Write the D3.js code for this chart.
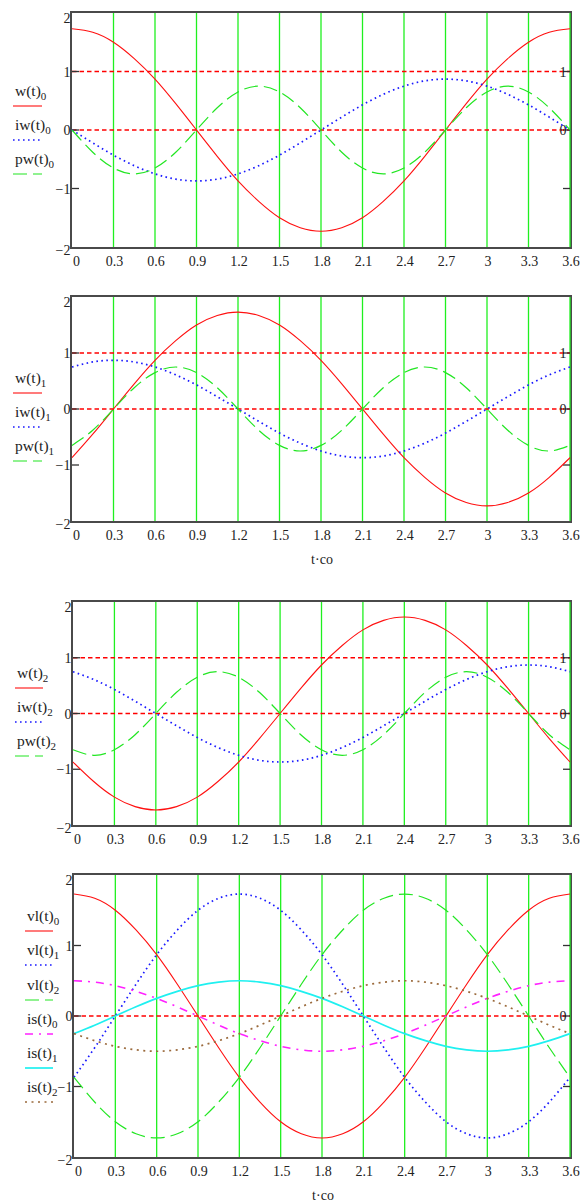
<!DOCTYPE html>
<html>
<head>
<meta charset="utf-8">
<script src="https://d3js.org/d3.v7.min.js"></script>
<style>
body { margin: 0; background: #fff; }
text { font-family: "Liberation Serif", "Times New Roman", serif; fill: #222; }
</style>
</head>
<body>
<script>
// sample times (t·co) read along the x axis
const tValues = [0, 0.15, 0.3, 0.45, 0.6, 0.75, 0.9, 1.05, 1.2, 1.35, 1.5, 1.65, 1.8,
                 1.95, 2.1, 2.25, 2.4, 2.55, 2.7, 2.85, 3, 3.15, 3.3, 3.45, 3.6];
const xTicks = [0, 0.3, 0.6, 0.9, 1.2, 1.5, 1.8, 2.1, 2.4, 2.7, 3, 3.3, 3.6];
const xTickLabels = ["0", "0.3", "0.6", "0.9", "1.2", "1.5", "1.8", "2.1", "2.4", "2.7", "3", "3.3", "3.6"];
const yTicks = [-2, -1, 0, 1, 2];
const yTickLabels = ["\u22122", "\u22121", "0", "1", "2"];
const gridX = [0.3, 0.6, 0.9, 1.2, 1.5, 1.8, 2.1, 2.4, 2.7, 3, 3.3, 3.6];

const w0 = [1.73, 1.67, 1.5, 1.22, 0.87, 0.45, 0, -0.45, -0.87, -1.22, -1.5, -1.67, -1.73,
            -1.67, -1.5, -1.22, -0.87, -0.45, 0, 0.45, 0.87, 1.22, 1.5, 1.67, 1.73];
const iw0 = [0, -0.22, -0.43, -0.61, -0.75, -0.84, -0.87, -0.84, -0.75, -0.61, -0.43, -0.22, 0,
             0.22, 0.43, 0.61, 0.75, 0.84, 0.87, 0.84, 0.75, 0.61, 0.43, 0.22, 0];
const pw0 = [0, -0.38, -0.65, -0.75, -0.65, -0.38, 0, 0.38, 0.65, 0.75, 0.65, 0.38, 0,
             -0.38, -0.65, -0.75, -0.65, -0.38, 0, 0.38, 0.65, 0.75, 0.65, 0.38, 0];

const w1 = [-0.87, -0.45, 0, 0.45, 0.87, 1.22, 1.5, 1.67, 1.73, 1.67, 1.5, 1.22, 0.87,
            0.45, 0, -0.45, -0.87, -1.22, -1.5, -1.67, -1.73, -1.67, -1.5, -1.22, -0.87];
const iw1 = [0.75, 0.84, 0.87, 0.84, 0.75, 0.61, 0.43, 0.22, 0, -0.22, -0.43, -0.61, -0.75,
             -0.84, -0.87, -0.84, -0.75, -0.61, -0.43, -0.22, 0, 0.22, 0.43, 0.61, 0.75];
const pw1 = [-0.65, -0.38, 0, 0.38, 0.65, 0.75, 0.65, 0.38, 0, -0.38, -0.65, -0.75, -0.65,
             -0.38, 0, 0.38, 0.65, 0.75, 0.65, 0.38, 0, -0.38, -0.65, -0.75, -0.65];

const w2 = [-0.87, -1.22, -1.5, -1.67, -1.73, -1.67, -1.5, -1.22, -0.87, -0.45, 0, 0.45, 0.87,
            1.22, 1.5, 1.67, 1.73, 1.67, 1.5, 1.22, 0.87, 0.45, 0, -0.45, -0.87];
const iw2 = [0.75, 0.61, 0.43, 0.22, 0, -0.22, -0.43, -0.61, -0.75, -0.84, -0.87, -0.84, -0.75,
             -0.61, -0.43, -0.22, 0, 0.22, 0.43, 0.61, 0.75, 0.84, 0.87, 0.84, 0.75];
const pw2 = [-0.65, -0.75, -0.65, -0.38, 0, 0.38, 0.65, 0.75, 0.65, 0.38, 0, -0.38, -0.65,
             -0.75, -0.65, -0.38, 0, 0.38, 0.65, 0.75, 0.65, 0.38, 0, -0.38, -0.65];

const vl0 = [1.73, 1.67, 1.5, 1.22, 0.87, 0.45, 0, -0.45, -0.87, -1.22, -1.5, -1.67, -1.73,
             -1.67, -1.5, -1.22, -0.87, -0.45, 0, 0.45, 0.87, 1.22, 1.5, 1.67, 1.73];
const vl1 = [-0.87, -0.45, 0, 0.45, 0.87, 1.22, 1.5, 1.67, 1.73, 1.67, 1.5, 1.22, 0.87,
             0.45, 0, -0.45, -0.87, -1.22, -1.5, -1.67, -1.73, -1.67, -1.5, -1.22, -0.87];
const vl2 = [-0.87, -1.22, -1.5, -1.67, -1.73, -1.67, -1.5, -1.22, -0.87, -0.45, 0, 0.45, 0.87,
             1.22, 1.5, 1.67, 1.73, 1.67, 1.5, 1.22, 0.87, 0.45, 0, -0.45, -0.87];
const is0 = [0.5, 0.48, 0.43, 0.35, 0.25, 0.13, 0, -0.13, -0.25, -0.35, -0.43, -0.48, -0.5,
             -0.48, -0.43, -0.35, -0.25, -0.13, 0, 0.13, 0.25, 0.35, 0.43, 0.48, 0.5];
const is1 = [-0.25, -0.13, 0, 0.13, 0.25, 0.35, 0.43, 0.48, 0.5, 0.48, 0.43, 0.35, 0.25,
             0.13, 0, -0.13, -0.25, -0.35, -0.43, -0.48, -0.5, -0.48, -0.43, -0.35, -0.25];
const is2 = [-0.25, -0.35, -0.43, -0.48, -0.5, -0.48, -0.43, -0.35, -0.25, -0.13, 0, 0.13, 0.25,
             0.35, 0.43, 0.48, 0.5, 0.48, 0.43, 0.35, 0.25, 0.13, 0, -0.13, -0.25];

// trace styles (Mathcad defaults)
const styles = {
  red:     {color: "#ff1010", width: 1.1, dash: null},
  blue:    {color: "#1a1aff", width: 1.7, dash: "1.6,3.4"},
  green:   {color: "#22e622", width: 1.2, dash: "14,6"},
  magenta: {color: "#ff22ff", width: 1.6, dash: "8,6,2,6"},
  cyan:    {color: "#1ff0f0", width: 1.7, dash: null},
  brown:   {color: "#9b6a3c", width: 1.7, dash: "2,4.5"}
};

const panels = [
  {x0: 72, x1: 570, y0: 13, y1: 247, markers: [1, 0], rightLabels: ["1", "0"], tco: false,
   legendX: 15, lineX: [13, 42], legendY: [96, 130, 164],
   series: [{name: "w(t)", sub: "0", v: w0, s: "red"},
            {name: "iw(t)", sub: "0", v: iw0, s: "blue"},
            {name: "pw(t)", sub: "0", v: pw0, s: "green"}]},
  {x0: 72, x1: 570, y0: 297, y1: 521, markers: [1, 0], rightLabels: ["1", "0"], tco: true,
   legendX: 15, lineX: [13, 42], legendY: [383, 417, 451],
   series: [{name: "w(t)", sub: "1", v: w1, s: "red"},
            {name: "iw(t)", sub: "1", v: iw1, s: "blue"},
            {name: "pw(t)", sub: "1", v: pw1, s: "green"}]},
  {x0: 73, x1: 570, y0: 602, y1: 825, markers: [1, 0], rightLabels: ["1", "0"], tco: false,
   legendX: 17, lineX: [15, 43], legendY: [678, 712, 746],
   series: [{name: "w(t)", sub: "2", v: w2, s: "red"},
            {name: "iw(t)", sub: "2", v: iw2, s: "blue"},
            {name: "pw(t)", sub: "2", v: pw2, s: "green"}]},
  {x0: 74, x1: 570, y0: 875, y1: 1157, markers: [0], rightLabels: [null, "0"], tco: true,
   legendX: 27, lineX: [25, 53], legendY: [921, 955, 990, 1024, 1058, 1092],
   series: [{name: "vl(t)", sub: "0", v: vl0, s: "red"},
            {name: "vl(t)", sub: "1", v: vl1, s: "blue"},
            {name: "vl(t)", sub: "2", v: vl2, s: "green"},
            {name: "is(t)", sub: "0", v: is0, s: "magenta"},
            {name: "is(t)", sub: "1", v: is1, s: "cyan"},
            {name: "is(t)", sub: "2", v: is2, s: "brown"}]}
];

const svg = d3.select("body").append("svg")
  .attr("width", 586).attr("height", 1203);

function applyStyle(sel, st) {
  sel.attr("fill", "none")
    .attr("stroke", st.color)
    .attr("stroke-width", st.width);
  if (st.dash) sel.attr("stroke-dasharray", st.dash);
}

panels.forEach(function(p) {
  const x = d3.scaleLinear().domain([0, 3.6]).range([p.x0, p.x1]);
  const y = d3.scaleLinear().domain([-2, 2]).range([p.y1, p.y0]);
  const g = svg.append("g");

  // frame
  g.append("rect")
    .attr("x", p.x0 - 1).attr("y", p.y0 - 1)
    .attr("width", p.x1 - p.x0 + 2).attr("height", p.y1 - p.y0 + 2)
    .attr("fill", "none").attr("stroke", "#4a4a4a").attr("stroke-width", 2);

  // vertical green markers
  g.selectAll(".gx").data(gridX).enter().append("line")
    .attr("x1", d => x(d)).attr("x2", d => x(d))
    .attr("y1", p.y0).attr("y2", p.y1)
    .attr("stroke", "#1ff01f").attr("stroke-width", 1.3);

  // red dashed horizontal markers
  g.selectAll(".my").data(p.markers).enter().append("line")
    .attr("x1", p.x0).attr("x2", p.x1)
    .attr("y1", d => y(d)).attr("y2", d => y(d))
    .attr("stroke", "#ff0000").attr("stroke-width", 1.5)
    .attr("stroke-dasharray", "4.5,3");

  // inner ticks, left and right
  [-1, 0, 1].forEach(function(v) {
    g.append("line").attr("x1", p.x0).attr("x2", p.x0 + 7)
      .attr("y1", y(v)).attr("y2", y(v)).attr("stroke", "#333").attr("stroke-width", 1.3);
    g.append("line").attr("x1", p.x1 - 7).attr("x2", p.x1)
      .attr("y1", y(v)).attr("y2", y(v)).attr("stroke", "#333").attr("stroke-width", 1.3);
  });

  // left y labels
  yTicks.forEach(function(v, i) {
    let yy = y(v) + 5;
    if (v === 2) yy = y(v) + 9.5;
    if (v === -2) yy = y(v) + 8;
    g.append("text").text(yTickLabels[i])
      .attr("x", p.x0 - 1.5).attr("y", yy)
      .attr("text-anchor", "end").attr("font-size", 14);
  });

  // right marker labels
  if (p.rightLabels[0]) {
    g.append("text").text(p.rightLabels[0])
      .attr("x", p.x1 - 3.5).attr("y", y(1) + 5)
      .attr("text-anchor", "end").attr("font-size", 14);
  }
  g.append("text").text(p.rightLabels[1])
    .attr("x", p.x1 - 3.5).attr("y", y(0) + 5)
    .attr("text-anchor", "end").attr("font-size", 14);

  // x labels
  xTicks.forEach(function(v, i) {
    g.append("text").text(xTickLabels[i])
      .attr("x", x(v) + 1)
      .attr("y", p.y1 + 18.5)
      .attr("text-anchor", i === 0 ? "start" : "middle")
      .attr("font-size", 14);
  });

  if (p.tco) {
    g.append("text").text("t\u00b7co")
      .attr("x", (p.x0 + p.x1) / 2 + 1).attr("y", p.y1 + 43)
      .attr("text-anchor", "middle").attr("font-size", 14);
  }

  // traces
  const line = d3.line()
    .x((d, i) => x(tValues[i]))
    .y(d => y(d))
    .curve(d3.curveNatural);
  p.series.forEach(function(s) {
    g.append("path").datum(s.v).attr("d", line).call(applyStyle, styles[s.s]);
  });

  // legend
  p.series.forEach(function(s, i) {
    const t = g.append("text")
      .attr("x", p.legendX).attr("y", p.legendY[i]).attr("font-size", 15.5);
    t.append("tspan").text(s.name);
    t.append("tspan").text(s.sub).attr("font-size", 11).attr("dy", 4);
    g.append("line")
      .attr("x1", p.lineX[0]).attr("x2", p.lineX[1])
      .attr("y1", p.legendY[i] + 10).attr("y2", p.legendY[i] + 10)
      .call(applyStyle, styles[s.s]);
  });
});
</script>
</body>
</html>
